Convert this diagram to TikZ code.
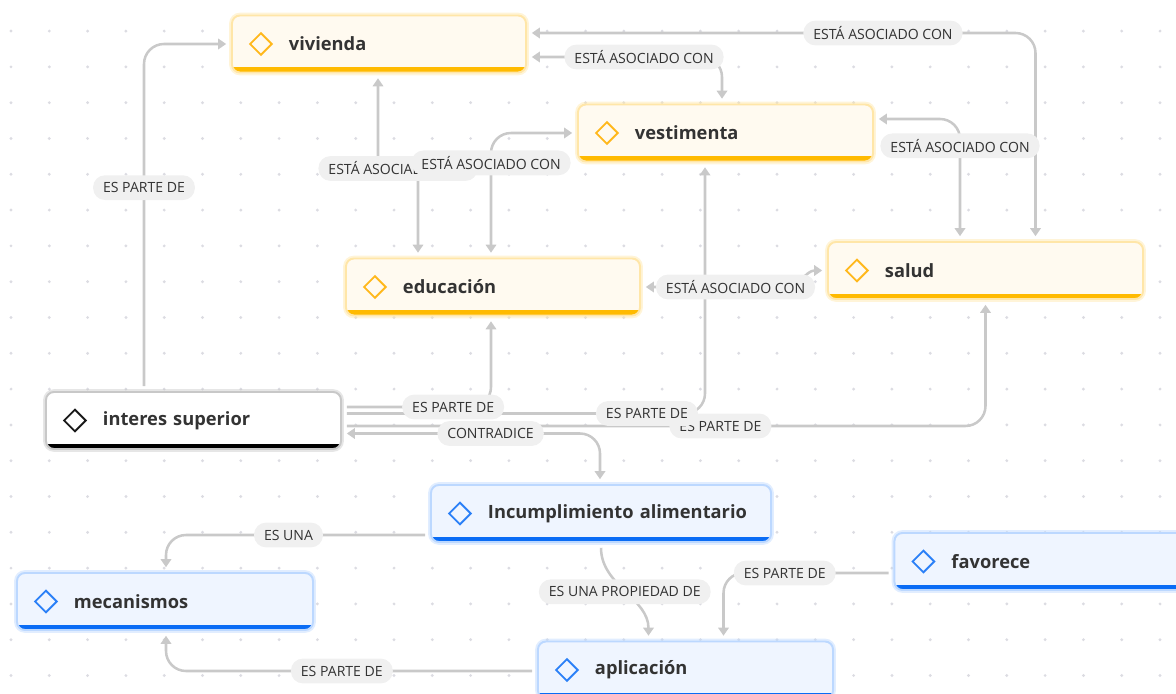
\documentclass[tikz,border=0pt]{standalone}
\usepackage{fontspec}
\setmainfont{Open Sans}
\usepackage{xcolor}
\usepackage{tikz}
\usetikzlibrary{arrows.meta, calc, positioning}

\definecolor{orfill}{HTML}{FFFAF0}
\definecolor{orborder}{HTML}{FFE6A8}
\definecolor{orbar}{HTML}{FFBA00}
\definecolor{oricon}{HTML}{FFB81C}
\definecolor{blfill}{HTML}{EFF5FF}
\definecolor{blborder}{HTML}{BCD8FF}
\definecolor{blbar}{HTML}{0A6CF5}
\definecolor{blicon}{HTML}{2B80F7}
\definecolor{wfill}{HTML}{FFFFFF}
\definecolor{wborder}{HTML}{C8C8C8}
\definecolor{wbar}{HTML}{000000}
\definecolor{wicon}{HTML}{1A1A1A}
\definecolor{edgegray}{HTML}{C9C9C9}
\definecolor{lblfill}{HTML}{F0F0F0}
\definecolor{txtdark}{HTML}{333333}
\definecolor{dotgray}{HTML}{DCDCE2}

\newcommand{\conceptfont}{\bfseries\fontsize{13}{15}\selectfont}
\newcommand{\lblfont}{\fontsize{10}{12}\selectfont}

\tikzstyle{link} = [draw=edgegray, line width=1.8pt, rounded corners=0.5cm, >={Triangle[length=0.2cm,width=0.26cm]}, shorten >=0.12cm, shorten <=0.12cm]
\tikzstyle{lbl} = [fill=lblfill, text=txtdark, font=\lblfont, rounded corners=0.3cm, inner xsep=0.25cm, inner ysep=0pt, minimum height=0.62cm]

\begin{document}
\begin{tikzpicture}[
			x=0.025cm, y=-0.025cm,
			box/.style n args={4}{rounded corners=0.2cm, line width=1.4pt, fill=#1, draw=#2,
				preaction={draw=#2, draw opacity=0.45, line width=4pt},
				minimum height=1.425cm, inner xsep=0pt, inner ysep=0pt, align=left,
				font=\conceptfont, text=txtdark,
				path picture={
					\fill[#3, sharp corners] (path picture bounding box.south west) rectangle ([yshift=0.13cm]path picture bounding box.south east);
					\draw[#4, line width=1.3pt, sharp corners] ([xshift=0.725cm]path picture bounding box.west) +(0,0.27cm) -- +(0.27cm,0) -- +(0,-0.27cm) -- +(-0.27cm,0) -- cycle;
				}},
			obox/.style={box={orfill}{orborder}{orbar}{oricon}},
			bbox/.style={box={blfill}{blborder}{blbar}{blicon}},
			wbox/.style={box={wfill}{wborder}{wbar}{wicon}}
			]
			
			\clip (0,0) rectangle (1176,694);
			
			% Dotted background
			\foreach \i in {0,...,30}
				\foreach \j in {0,...,18}
					\fill[dotgray] (11+38.3*\i, 31.1+35.8*\j) circle (0.04cm);
			
			% Concept nodes
			\node[obox, text width=7.35cm] (viv) at (379,44) {\hspace*{1.425cm}vivienda};
			\node[obox, text width=7.375cm] (vest) at (725.5,133) {\hspace*{1.425cm}vestimenta};
			\node[obox, text width=7.35cm] (edu) at (493,287) {\hspace*{1.425cm}educación};
			\node[obox, text width=7.875cm] (sal) at (985.5,270.5) {\hspace*{1.425cm}salud};
			\node[wbox, text width=7.375cm] (int) at (193.5,420.5) {\hspace*{1.425cm}interes superior};
			\node[bbox, text width=8.5cm] (inc) at (601,513.5) {\hspace*{1.425cm}Incumplimiento alimentario};
			\node[bbox, text width=7.4cm] (mec) at (165,601.5) {\hspace*{1.425cm}mecanismos};
			\node[bbox, text width=7.375cm] (fav) at (1042,561.5) {\hspace*{1.425cm}favorece};
			\node[bbox, text width=7.375cm] (apl) at (685.5,670) {\hspace*{1.425cm}aplicación};
			
			% ES PARTE DE / CONTRADICE from interes superior
			\draw[link, ->] ($(int.north)+(-49.5,0)$) |- node[lbl, pos=0.293] {ES PARTE DE} (viv.west);
			\draw[link, ->] ($(int.east)+(0,5.5)$) -| node[lbl, pos=0.294] {ES PARTE DE} (sal.south);
			\draw[link, ->] ($(int.east)+(0,-7)$) -| node[lbl, pos=0.42] {ES PARTE DE} ($(vest.south)+(-20.5,0)$);
			\draw[link, ->] ($(int.east)+(0,-13.5)$) -| node[lbl, pos=0.373] {ES PARTE DE} ($(edu.south)+(-2,0)$);
			\draw[link, <->] ($(int.east)+(0,13)$) -| node[lbl, pos=0.288] {CONTRADICE} ($(inc.north)+(-1,0)$);
			
			% ESTÁ ASOCIADO CON links
			\draw[link, <->] ($(viv.east)+(0,-11)$) -| node[lbl, pos=0.35] {ESTÁ ASOCIADO CON} ($(sal.north)+(50,0)$);
			\draw[link, <->] ($(viv.east)+(0,13)$) -| node[lbl, pos=0.30] {ESTÁ ASOCIADO CON} ($(vest.north)+(-3.5,0)$);
			\draw[link, <->] ($(vest.east)+(0,-14)$) -| node[lbl, pos=0.61] {ESTÁ ASOCIADO CON} ($(sal.north)+(-25.5,0)$);
			\draw[link, <->] ($(viv.south)+(-1,0)$) -- ++(0,70) to[out=-90, in=90] node[lbl] {ESTÁ ASOCIADO CON} ++(40,50) -- ($(edu.north)+(-75,0)$);
			\draw[link, <->] ($(edu.north)+(-2,0)$) |- node[lbl, pos=0.38] {ESTÁ ASOCIADO CON} (vest.west);
			\draw[link, <->] (edu.east) -- node[lbl, pos=0.7] {ESTÁ ASOCIADO CON} ++(135,0) to[out=0, in=180] (sal.west);
			
			% lower part
			\draw[link, ->] ($(inc.west)+(0,21.5)$) -| node[lbl, pos=0.268] {ES UNA} ($(mec.north)+(1,0)$);
			\draw[link, ->] (inc.south) to[out=-90, in=90] node[lbl] {ES UNA PROPIEDAD DE} ($(apl.north)+(-37,0)$);
			\draw[link, ->] ($(fav.west)+(0,11.5)$) -| node[lbl, pos=0.32] {ES PARTE DE} ($(apl.north)+(38,0)$);
			\draw[link, ->] ($(apl.west)+(0,1)$) -| node[lbl, pos=0.263] {ES PARTE DE} ($(mec.south)+(1,0)$);
			
		\end{tikzpicture}
\end{document}
